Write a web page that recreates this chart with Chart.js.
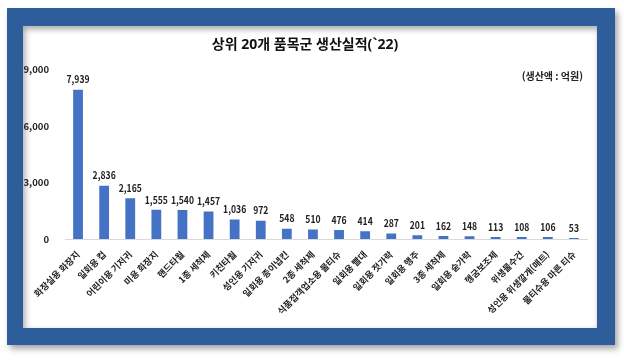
<!DOCTYPE html>
<html lang="ko">
<head>
<meta charset="UTF-8">
<script src="https://cdn.jsdelivr.net/npm/chart.js"></script>
<style>
  html, body { margin: 0; padding: 0; background: #fff; }
  body { width: 624px; height: 360px; position: relative; overflow: hidden; }
  .frame {
    position: absolute; left: 7px; top: 8px; width: 608px; height: 337px;
    background: #2e5d9b;
    box-shadow: 3px 4px 6px rgba(0,0,0,0.35);
  }
  .panel {
    position: absolute; left: 23px; top: 26px; width: 574px; height: 302px;
    background: #fff;
    box-shadow: inset 2px 3px 6px rgba(0,0,0,0.35);
  }
  canvas { position: absolute; left: 0; top: 0; }
</style>
</head>
<body>
<div class="frame"></div>
<div class="panel">
  <canvas id="chart" width="574" height="302"></canvas>
</div>
<script>
const categories = [
  '화장실용 화장지', '일회용 컵', '어린이용 기저귀', '미용 화장지', '핸드타월',
  '1종 세척제', '키친타월', '성인용 기저귀', '일회용 종이냅킨', '2종 세척제',
  '식품접객업소용 물티슈', '일회용 빨대', '일회용 젓가락', '일회용 행주', '3종 세척제',
  '일회용 숟가락', '헹굼보조제', '위생물수건', '성인용 위생깔개(매트)', '물티슈용 마른 티슈'
];
const values = [7939, 2836, 2165, 1555, 1540, 1457, 1036, 972, 548, 510,
                476, 414, 287, 201, 162, 148, 113, 108, 106, 53];
const yTicks = [0, 3000, 6000, 9000];

const FONT = "'Noto Sans CJK KR', 'Noto Sans', sans-serif";
const TITLE_FONT = "'Noto Sans', 'Noto Sans CJK KR', sans-serif";

// value labels above each bar (drawn a bit condensed) + unit note
const labelPlugin = {
  id: 'labels',
  afterDatasetsDraw(chart) {
    const ctx = chart.ctx;
    const meta = chart.getDatasetMeta(0);
    const sx = 0.82;
    ctx.save();
    ctx.font = '600 10.5px ' + FONT;
    ctx.fillStyle = '#222';
    ctx.textAlign = 'center';
    ctx.textBaseline = 'bottom';
    meta.data.forEach((bar, i) => {
      ctx.save();
      ctx.translate(bar.x, bar.y - 5);
      ctx.scale(sx, 1);
      ctx.fillText(values[i].toLocaleString('en-US'), 0, 0);
      ctx.restore();
    });
    ctx.font = 'bold 10px ' + FONT;
    ctx.textAlign = 'right';
    ctx.textBaseline = 'middle';
    ctx.fillText('(생산액 : 억원)', chart.chartArea.right - 4, 50);
    ctx.restore();
  }
};

new Chart(document.getElementById('chart'), {
  type: 'bar',
  data: {
    labels: categories,
    datasets: [{
      data: values,
      backgroundColor: '#4472c4',
      barPercentage: 0.75,
      categoryPercentage: 0.5
    }]
  },
  options: {
    responsive: false,
    animation: false,
    layout: { padding: { left: 0, right: 10, top: 0, bottom: 6 } },
    plugins: {
      legend: { display: false },
      tooltip: { enabled: false },
      title: {
        display: true,
        text: '상위 20개 품목군 생산실적(`22)',
        color: '#111',
        font: { family: TITLE_FONT, size: 14, weight: 'bold' },
        padding: { top: 11, bottom: 16 }
      }
    },
    scales: {
      x: {
        grid: { display: false },
        border: { display: true, color: '#d9d9d9' },
        ticks: {
          color: '#222',
          font: { family: FONT, size: 9, weight: 'bold' },
          minRotation: 45,
          maxRotation: 45,
          autoSkip: false,
          padding: 2
        },
        afterFit(scale) { scale.height = 83; }
      },
      y: {
        min: 0,
        max: 9000,
        afterBuildTicks(scale) { scale.ticks = yTicks.map(v => ({ value: v })); },
        grid: { display: false },
        border: { display: false },
        ticks: {
          color: '#222',
          font: { family: FONT, size: 9.5, weight: '600' },
          padding: 8,
          callback: v => v.toLocaleString('en-US')
        },
        afterFit(scale) { scale.width = 42; }
      }
    }
  },
  plugins: [labelPlugin]
});
</script>
</body>
</html>
